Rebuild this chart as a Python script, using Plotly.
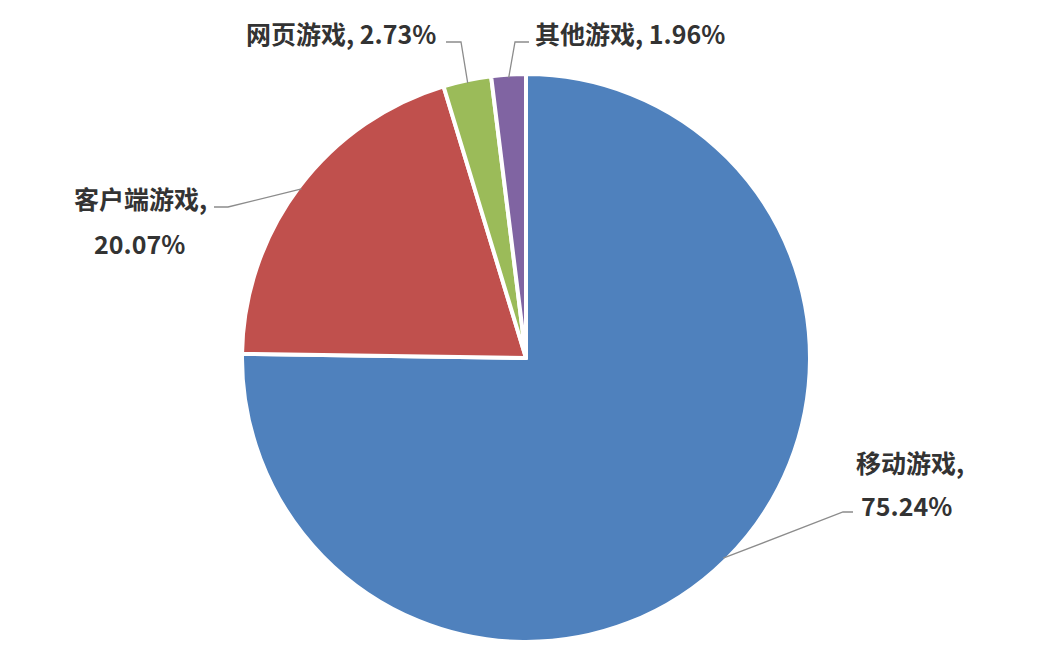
import numpy as np
import plotly.graph_objects as go

# data
labels = ["移动游戏", "客户端游戏", "网页游戏", "其他游戏"]
shares = [75.24, 20.07, 2.73, 1.96]
colors = ["#4F81BD", "#C0504D", "#9BBB59", "#8064A2"]

W, H = 1042, 670
# pie geometry (pixels)
CX, CY, R = 526, 358, 281

# label layout: text lines, anchor, and elbow of the leader line (pixels)
label_layout = [
    dict(lines=[(910, 462, "center", "{l},"), (906, 505, "center", "{v:.2f}%")],
         start=(853, 512), elbow=(843, 512)),
    dict(lines=[(140, 198, "center", "{l},"), (139, 243, "center", "{v:.2f}%")],
         start=(214, 207), elbow=(228, 207)),
    dict(lines=[(438, 33, "right", "{l}, {v:.2f}%")],
         start=(446, 42), elbow=(461, 42)),
    dict(lines=[(533, 33, "left", "{l}, {v:.2f}%")],
         start=(529, 42), elbow=(515, 42)),
]


def px(x, y):
    return x / W, 1 - y / H


# plotly insets the pie a little, so give the domain a couple of pixels extra
pad = 3
fig = go.Figure(go.Pie(
    labels=labels,
    values=shares,
    sort=False,
    direction="clockwise",
    rotation=0,
    marker=dict(colors=colors, line=dict(color="white", width=4)),
    textinfo="none",
    hoverinfo="label+percent",
    showlegend=False,
    domain=dict(x=[(CX - R - pad) / W, (CX + R + pad) / W],
                y=[1 - (CY + R + pad) / H, 1 - (CY - R - pad) / H]),
))

# leader lines from slice midpoints
total = sum(shares)
cum = np.cumsum([0] + shares[:-1])
annotations = []
shapes = []
for i, (lab, v) in enumerate(zip(labels, shares)):
    mid = (cum[i] + v / 2) / total * 2 * np.pi
    ax, ay = CX + R * np.sin(mid), CY - R * np.cos(mid)
    lay = label_layout[i]
    p0 = px(*lay["start"])
    p1 = px(*lay["elbow"])
    p2 = px(ax, ay)
    shapes.append(dict(type="path", xref="paper", yref="paper",
                       path=f"M {p0[0]} {p0[1]} L {p1[0]} {p1[1]} L {p2[0]} {p2[1]}",
                       line=dict(color="#8c8c8c", width=1.3)))
    for (tx, ty, anchor, fmt) in lay["lines"]:
        x, y = px(tx, ty)
        annotations.append(dict(x=x, y=y, xref="paper", yref="paper",
                                text="<b>" + fmt.format(l=lab, v=v) + "</b>",
                                showarrow=False, xanchor=anchor, yanchor="middle",
                                font=dict(family="Noto Sans CJK SC", size=25, color="#333333")))

fig.update_layout(
    width=W, height=H,
    margin=dict(l=0, r=0, t=0, b=0),
    paper_bgcolor="white",
    plot_bgcolor="white",
    annotations=annotations,
    shapes=shapes,
)

# drop the default page margin so the figure sits at the window origin
fig.write_html("out.html", config={"displayModeBar": False},
               post_script="document.body.style.margin='0';")
